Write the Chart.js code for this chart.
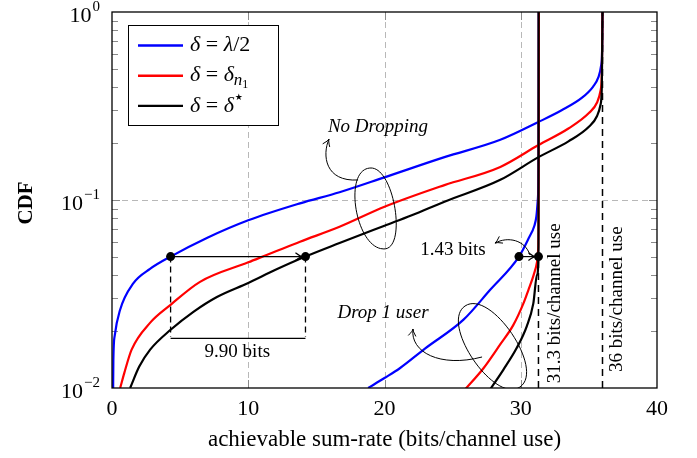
<!DOCTYPE html>
<html><head><meta charset="utf-8">
<script src="https://cdn.jsdelivr.net/npm/chart.js@4.4.0/dist/chart.umd.min.js"></script>
<style>html,body{margin:0;padding:0;background:#fff}#wrap{width:697px;height:458px}</style>
</head><body><div id="wrap"><canvas id="c" width="697" height="458"></canvas></div>
<script>
// ---- tick labels / axes ----
const xTicks = [0, 10, 20, 30, 40];
const yTicks = [0.01, 0.1, 1];
const yTickExp = ['\u22122', '\u22121', '0'];
const xGrid = [10, 20, 30];
const yGrid = [0.1];
const yMinor = [0.02,0.03,0.04,0.05,0.06,0.07,0.08,0.09,0.2,0.3,0.4,0.5,0.6,0.7,0.8,0.9];
const xTitle = 'achievable sum-rate (bits/channel use)';
const yTitle = 'CDF';

// ---- series: no dropping ----
const blueNoDropX = [0.08, 0.1, 0.2, 0.59, 1.56, 2.79, 4.3, 7.0, 10.0, 13.8, 16.7, 20.0, 24.4, 28.5, 31.3, 33.0, 34.5, 35.3, 35.7, 35.9, 35.97, 36.0];
const blueNoDropY = [0.009, 0.014, 0.019, 0.026, 0.036, 0.043, 0.05, 0.063, 0.078, 0.096, 0.11, 0.132, 0.169, 0.209, 0.26, 0.30, 0.35, 0.40, 0.45, 0.52, 0.62, 1.0];
const redNoDropX = [0.6, 0.9, 1.44, 2.79, 4.3, 6.46, 10.0, 13.8, 16.7, 20.0, 24.4, 28.5, 31.3, 33.5, 35.0, 35.6, 35.85, 35.95, 36.0];
const redNoDropY = [0.01, 0.012, 0.016, 0.0222, 0.0277, 0.0367, 0.0466, 0.060, 0.072, 0.092, 0.12, 0.15, 0.196, 0.24, 0.29, 0.33, 0.38, 0.47, 1.0];
const blackNoDropX = [1.33, 2.0, 2.8, 4.3, 6.0, 7.7, 10.0, 12.0, 14.2, 16.7, 20.0, 22.0, 24.4, 28.5, 31.3, 33.5, 35.0, 35.6, 35.85, 35.95, 36.0];
const blackNoDropY = [0.01, 0.013, 0.016, 0.0204, 0.0255, 0.0305, 0.0362, 0.0425, 0.05, 0.059, 0.073, 0.083, 0.098, 0.128, 0.169, 0.205, 0.245, 0.28, 0.32, 0.40, 1.0];

// ---- series: drop 1 user ----
const blueDropX = [18.8, 20.0, 21.1, 22.97, 25.8, 27.74, 29.87, 30.6, 31.0, 31.15, 31.25, 31.3, 31.32];
const blueDropY = [0.01, 0.0113, 0.0127, 0.0162, 0.0231, 0.0332, 0.05, 0.063, 0.073, 0.082, 0.1, 0.15, 1.0];
const redDropX = [25.9, 27.25, 28.48, 29.45, 30.19, 30.56, 30.95, 31.2, 31.28, 31.31, 31.33];
const redDropY = [0.0098, 0.0127, 0.017, 0.0216, 0.0281, 0.0332, 0.04, 0.047, 0.055, 0.08, 1.0];
const blackDropX = [27.74, 28.72, 29.7, 30.44, 30.92, 31.2, 31.3, 31.31];
const blackDropY = [0.0098, 0.0125, 0.0163, 0.0213, 0.0281, 0.04, 0.05, 1.0];

const legendColors = ['#0000ff', '#ff0000', '#000000'];

// ---- annotation values ----
const gapNoDrop = {x0: 4.3, x1: 14.2, y: 0.05, yLow: 0.0187, label: '9.90 bits', labelX: 9.2, labelY: 0.0155};
const gapDrop = {x0: 29.87, x1: 31.3, y: 0.05, label: '1.43 bits', labelX: 25.03, labelY: 0.0542};
const capLines = [31.3, 36];
const capLabels = ['31.3 bits/channel use', '36 bits/channel use'];
const capLabelPos = [[32.51, 0.0282], [37.04, 0.0297]];

function pts(xs, ys){ return xs.map((v,i)=>({x:v, y:ys[i]})); }
function ds(xs, ys, color, order){
  return {data: pts(xs, ys), borderColor: color, borderWidth: 2.2, pointRadius: 0, fill: false,
          cubicInterpolationMode: 'monotone', order: order};
}

const SERIF = '"Liberation Serif", "DejaVu Serif", serif';

function drawRich(ctx, segs, x, y){
  let cx = x;
  segs.forEach(s=>{
    ctx.font = (s.it ? 'italic ' : '') + s.size + 'px ' + (s.fam || SERIF);
    ctx.fillText(s.t, cx, y + (s.dy||0));
    cx += ctx.measureText(s.t).width + (s.after||0);
  });
}

function arrowHead(ctx, x, y, ang){
  const L = 8, A = 0.5;
  ctx.beginPath();
  ctx.moveTo(x - L*Math.cos(ang - A), y - L*Math.sin(ang - A));
  ctx.quadraticCurveTo(x - 2*Math.cos(ang), y - 2*Math.sin(ang), x, y);
  ctx.quadraticCurveTo(x - 2*Math.cos(ang), y - 2*Math.sin(ang), x - L*Math.cos(ang + A), y - L*Math.sin(ang + A));
  ctx.stroke();
}

const deco = {
  id: 'deco',
  beforeDatasetsDraw(chart){
    const {ctx, chartArea: a, scales: {x, y}} = chart;
    ctx.save();
    ctx.strokeStyle = '#b8b8b8'; ctx.lineWidth = 1; ctx.setLineDash([6, 4]);
    xGrid.forEach(v=>{ const p = Math.round(x.getPixelForValue(v)) + 0.5;
      ctx.beginPath(); ctx.moveTo(p, a.top); ctx.lineTo(p, a.bottom); ctx.stroke(); });
    yGrid.forEach(v=>{ const p = Math.round(y.getPixelForValue(v)) + 0.5;
      ctx.beginPath(); ctx.moveTo(a.left, p); ctx.lineTo(a.right, p); ctx.stroke(); });
    ctx.setLineDash([]);
    ctx.strokeStyle = '#8a8a8a';
    yMinor.forEach(v=>{ const p = Math.round(y.getPixelForValue(v)) + 0.5;
      ctx.beginPath(); ctx.moveTo(a.left, p); ctx.lineTo(a.left + 6, p);
      ctx.moveTo(a.right, p); ctx.lineTo(a.right - 6, p); ctx.stroke(); });
    yGrid.forEach(v=>{ const p = Math.round(y.getPixelForValue(v)) + 0.5;
      ctx.beginPath(); ctx.moveTo(a.left, p); ctx.lineTo(a.left + 8, p);
      ctx.moveTo(a.right, p); ctx.lineTo(a.right - 8, p); ctx.stroke(); });
    xGrid.forEach(v=>{ const p = Math.round(x.getPixelForValue(v)) + 0.5;
      ctx.beginPath(); ctx.moveTo(p, a.bottom); ctx.lineTo(p, a.bottom - 8);
      ctx.moveTo(p, a.top); ctx.lineTo(p, a.top + 8); ctx.stroke(); });
    ctx.restore();
  },
  afterDatasetsDraw(chart){
    const {ctx, chartArea: a, scales: {x, y}} = chart;
    const P = (u, v) => [x.getPixelForValue(u), y.getPixelForValue(v)];
    ctx.save();
    ctx.beginPath(); ctx.rect(a.left, a.top, a.right - a.left, a.bottom - a.top); ctx.clip();

    // capacity dashed lines
    ctx.strokeStyle = '#000'; ctx.lineWidth = 1.5; ctx.setLineDash([7, 5]);
    const tops = [0.05, 1];
    capLines.forEach((v, i)=>{ const [px, p0] = P(v, 0.01); const [, p1] = P(v, tops[i]);
      ctx.beginPath(); ctx.moveTo(px, p0); ctx.lineTo(px, p1); ctx.stroke(); });

    // 9.90 bits bracket
    ctx.lineWidth = 1.3; ctx.setLineDash([6, 4]);
    [gapNoDrop.x0, gapNoDrop.x1].forEach(v=>{ const [px, p0] = P(v, gapNoDrop.y); const [, p1] = P(v, gapNoDrop.yLow);
      ctx.beginPath(); ctx.moveTo(px, p0); ctx.lineTo(px, p1); ctx.stroke(); });
    ctx.setLineDash([]);
    { const [a0, b0] = P(gapNoDrop.x0, gapNoDrop.yLow); const [a1] = P(gapNoDrop.x1, gapNoDrop.yLow);
      ctx.beginPath(); ctx.moveTo(a0, b0 + 1.5); ctx.lineTo(a1, b0 + 1.5); ctx.stroke(); }
    // horizontal arrows
    ctx.lineWidth = 1.2;
    [gapNoDrop, gapDrop].forEach(g=>{ const [a0, b0] = P(g.x0, g.y); const [a1] = P(g.x1, g.y);
      ctx.beginPath(); ctx.moveTo(a0, b0); ctx.lineTo(a1, b0); ctx.stroke(); arrowHead(ctx, a1 - 3, b0, 0); });
    // dots
    ctx.fillStyle = '#000';
    [gapNoDrop.x0, gapNoDrop.x1, gapDrop.x0, gapDrop.x1].forEach(v=>{ const [px, py] = P(v, 0.05);
      ctx.beginPath(); ctx.arc(px, py, 4.5, 0, Math.PI*2); ctx.fill(); });

    // lenses
    ctx.lineWidth = 1;
    { const [tx, ty] = P(19.01, 0.148); const [bx, by] = P(19.96, 0.0549);
      ctx.beginPath(); ctx.moveTo(tx, ty); ctx.bezierCurveTo(tx - 28.7, ty, bx - 28.7, by, bx, by);
      ctx.bezierCurveTo(bx + 23.3, by, tx + 23.3, ty, tx, ty); ctx.stroke(); }
    { const [ax, ay] = P(25.91, 0.0273); const [bx, by] = P(29.94, 0.01012);
      const dx = bx - ax, dy = by - ay, L = Math.hypot(dx, dy); const nx = dy / L, ny = -dx / L; const d = 31;
      ctx.beginPath(); ctx.moveTo(ax, ay);
      ctx.bezierCurveTo(ax + nx*d, ay + ny*d, bx + nx*d, by + ny*d, bx, by);
      ctx.bezierCurveTo(bx - nx*d, by - ny*d, ax - nx*d, ay - ny*d, ax, ay); ctx.stroke(); }

    // curved arrows
    const curved = (s, c1, c2, e) => {
      const S = P(...s), C1 = P(...c1), C2 = P(...c2), E = P(...e);
      ctx.beginPath(); ctx.moveTo(...S); ctx.bezierCurveTo(...C1, ...C2, ...E); ctx.stroke();
      arrowHead(ctx, E[0], E[1], Math.atan2(E[1] - C2[1], E[0] - C2[0]));
    };
    curved([18.06, 0.1278], [15.63, 0.1247], [15.41, 0.1735], [15.93, 0.2111]);
    curved([27.16, 0.01462], [24.07, 0.01278], [21.87, 0.01554], [22.09, 0.0206]);
    curved([30.68, 0.051], [30.31, 0.0613], [29.06, 0.0643], [28.11, 0.059]);

    // texts
    ctx.fillStyle = '#000'; ctx.textAlign = 'center'; ctx.textBaseline = 'middle';
    ctx.font = '19px ' + SERIF;
    { const [px, py] = P(gapNoDrop.labelX, gapNoDrop.labelY); ctx.fillText(gapNoDrop.label, px, py); }
    { const [px, py] = P(gapDrop.labelX, gapDrop.labelY); ctx.fillText(gapDrop.label, px, py); }
    ctx.font = 'italic 19px ' + SERIF;
    { const [px, py] = P(19.52, 0.2445); ctx.fillText('No Dropping', px, py); }
    { const [px, py] = P(19.89, 0.02506); ctx.fillText('Drop 1 user', px, py); }
    ctx.font = '19px ' + SERIF;
    capLabels.forEach((t, i)=>{ const [px, py] = P(...capLabelPos[i]);
      ctx.save(); ctx.translate(px, py); ctx.rotate(-Math.PI/2); ctx.fillText(t, 0, 0); ctx.restore(); });
    ctx.restore();

    // frame
    ctx.save();
    ctx.strokeStyle = '#000'; ctx.lineWidth = 1.3;
    ctx.strokeRect(a.left, a.top, a.right - a.left, a.bottom - a.top);

    // legend
    const lx = a.left + 16, ly = a.top + 13, lw = 150, lh = 100;
    ctx.fillStyle = '#fff'; ctx.fillRect(lx, ly, lw, lh);
    ctx.lineWidth = 1; ctx.strokeRect(lx + 0.5, ly + 0.5, lw, lh);
    const rows = [
      [{t:'\u03b4', it:1, size:22}, {t:' = ', size:22}, {t:'\u03bb', it:1, size:22}, {t:'/2', size:22}],
      [{t:'\u03b4', it:1, size:22}, {t:' = ', size:22}, {t:'\u03b4', it:1, size:22}, {t:'n', it:1, size:17, dy:5}, {t:'1', size:12, dy:9}],
      [{t:'\u03b4', it:1, size:22}, {t:' = ', size:22}, {t:'\u03b4', it:1, size:22, after:1}, {t:'\u2605', size:9, dy:-8, fam:'"DejaVu Sans", sans-serif'}]
    ];
    rows.forEach((r, i)=>{
      const yy = ly + 20.5 + i * 30.2;
      ctx.strokeStyle = legendColors[i]; ctx.lineWidth = 2.4;
      ctx.beginPath(); ctx.moveTo(lx + 10, yy); ctx.lineTo(lx + 55, yy); ctx.stroke();
      ctx.fillStyle = '#000'; ctx.textAlign = 'left'; ctx.textBaseline = 'middle';
      drawRich(ctx, r, lx + 62, yy);
    });

    // y tick labels
    ctx.fillStyle = '#000'; ctx.textBaseline = 'middle';
    yTicks.forEach((v, i)=>{
      const py = y.getPixelForValue(v);
      ctx.font = '15px ' + SERIF; const ew = ctx.measureText(yTickExp[i]).width;
      ctx.textAlign = 'left'; ctx.fillText(yTickExp[i], a.left - 12 - ew, py - 5);
      ctx.font = '22px ' + SERIF; ctx.textAlign = 'right'; ctx.fillText('10', a.left - 13 - ew, py + 4);
    });
    // axis titles
    ctx.font = '23px ' + SERIF; ctx.textAlign = 'center';
    ctx.fillText(xTitle, (a.left + a.right) / 2, 440);
    ctx.save(); ctx.translate(27, 203); ctx.rotate(-Math.PI/2);
    ctx.font = 'bold 21px ' + SERIF; ctx.fillText(yTitle, 0, 0); ctx.restore();
    ctx.restore();
  }
};

new Chart(document.getElementById('c'), {
  type: 'line',
  data: { datasets: [
    ds(blueNoDropX, blueNoDropY, legendColors[0], 2),
    ds(redNoDropX, redNoDropY, legendColors[1], 1),
    ds(blackNoDropX, blackNoDropY, legendColors[2], 0),
    ds(blueDropX, blueDropY, legendColors[0], 2),
    ds(redDropX, redDropY, legendColors[1], 1),
    ds(blackDropX, blackDropY, legendColors[2], 0)
  ]},
  options: {
    responsive: false, devicePixelRatio: 1, animation: false,
    layout: { padding: { left: 0, right: 40, top: 12, bottom: 0 } },
    plugins: { legend: { display: false }, tooltip: { enabled: false } },
    scales: {
      x: { type: 'linear', min: 0, max: 40,
           grid: { display: false, drawTicks: false }, border: { display: false },
           afterBuildTicks: s => { s.ticks = xTicks.map(v => ({ value: v })); },
           afterFit: s => { s.height = 70; },
           ticks: { color: '#000', padding: 8, maxRotation: 0, font: { family: SERIF, size: 22 } } },
      y: { type: 'logarithmic', min: 0.01, max: 1,
           grid: { display: false, drawTicks: false }, border: { display: false },
           afterBuildTicks: s => { s.ticks = yTicks.map(v => ({ value: v })); },
           afterFit: s => { s.width = 112; },
           ticks: { display: false } }
    }
  },
  plugins: [deco]
});
</script>
</body></html>
